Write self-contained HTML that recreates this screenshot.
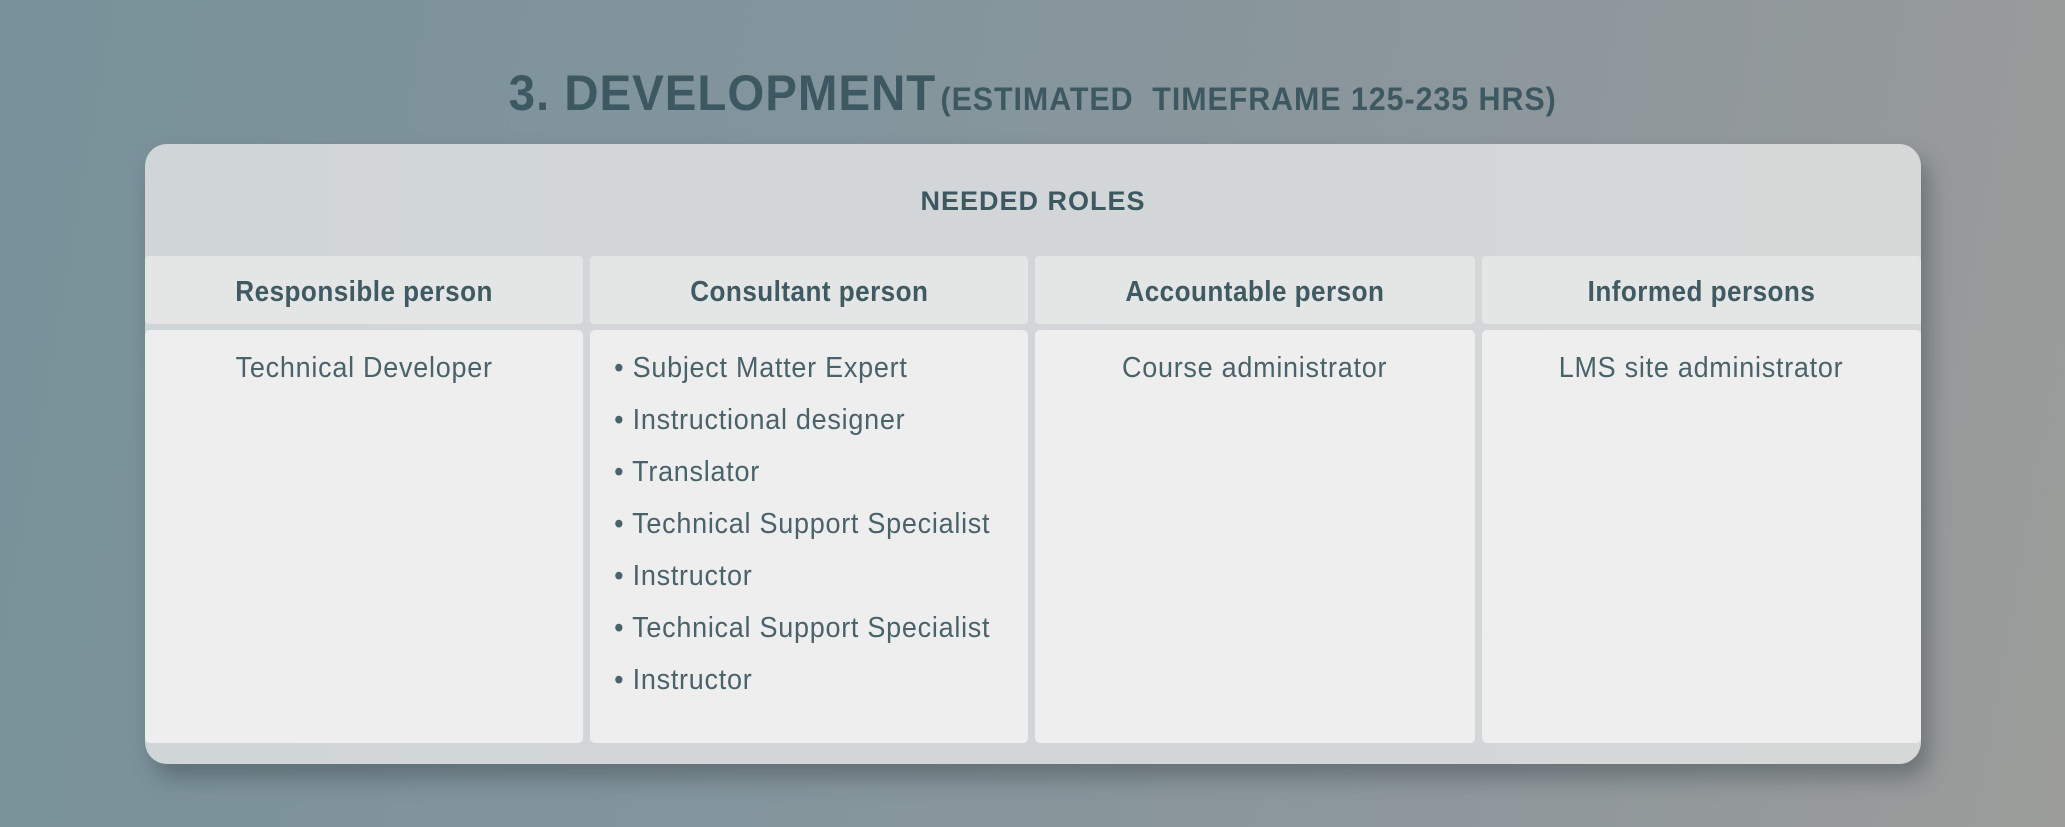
<!DOCTYPE html>
<html><head><meta charset="utf-8"><style>
html,body{margin:0;padding:0}
body{width:2065px;height:827px;overflow:hidden;position:relative;
background:linear-gradient(100deg,#78919a 0%,#83959c 40%,#8d979c 70%,#9b9c9a 100%);
font-family:"Liberation Sans",sans-serif;color:#3f5a62}
#title{position:absolute;left:0;width:2065px;top:64px;text-align:center;white-space:nowrap;color:#3d5860}
#title .in{display:inline-block;transform:scaleX(0.95);transform-origin:center}
#title .big{font-weight:900;font-size:50px;letter-spacing:1px}
#title .small{font-weight:900;font-size:32px;letter-spacing:1px}
#card{position:absolute;left:145px;top:144px;width:1776px;height:620px;border-radius:22px;
background:linear-gradient(90deg,#d0d5d8,#d6d8d8);box-shadow:8px 14px 22px rgba(60,70,75,.45);overflow:hidden}
#band{position:absolute;left:0;top:0;width:100%;height:114px;text-align:center;line-height:114px;
font-weight:900;font-size:27px;letter-spacing:1px;color:#3d5860}
.hcell{position:absolute;top:112px;height:68px;background:#e4e5e5;border-radius:4px;text-align:center;line-height:72px;font-weight:bold;font-size:29px;letter-spacing:.5px}
.hcell span{display:inline-block;transform:scaleX(0.9)}
.bcell{position:absolute;top:186px;height:413px;background:#eeeeee;border-radius:5px;font-size:29px;letter-spacing:.8px;color:#4a636b}
.bcell .c{text-align:center;margin-top:18px;line-height:40px}
.bcell .c span{display:inline-block;transform:scaleX(0.93)}
.bcell ul{list-style:none;margin:12px 0 0 0;padding:0 0 0 26px;transform:scaleX(0.93);transform-origin:left}
.bcell li{line-height:52px;height:52px;white-space:nowrap}
.bcell li:before{content:"• ";}
</style></head><body>
<div id="title"><span class="in"><span class="big">3. DEVELOPMENT</span> <span class="small">(ESTIMATED&nbsp; TIMEFRAME 125-235 HRS)</span></span></div>
<div id="card">
<div id="band">NEEDED ROLES</div>
<div class="hcell" style="left:0;width:438px"><span>Responsible person</span></div>
<div class="hcell" style="left:445px;width:438px"><span>Consultant person</span></div>
<div class="hcell" style="left:890px;width:440px"><span>Accountable person</span></div>
<div class="hcell" style="left:1337px;width:439px"><span>Informed persons</span></div>
<div class="bcell" style="left:0;width:438px"><div class="c"><span>Technical Developer</span></div></div>
<div class="bcell" style="left:445px;width:438px"><ul>
<li>Subject Matter Expert</li><li>Instructional designer</li><li>Translator</li><li>Technical Support Specialist</li><li>Instructor</li><li>Technical Support Specialist</li><li>Instructor</li></ul></div>
<div class="bcell" style="left:890px;width:440px"><div class="c"><span>Course administrator</span></div></div>
<div class="bcell" style="left:1337px;width:439px"><div class="c"><span>LMS site administrator</span></div></div>
</div>
</body></html>
